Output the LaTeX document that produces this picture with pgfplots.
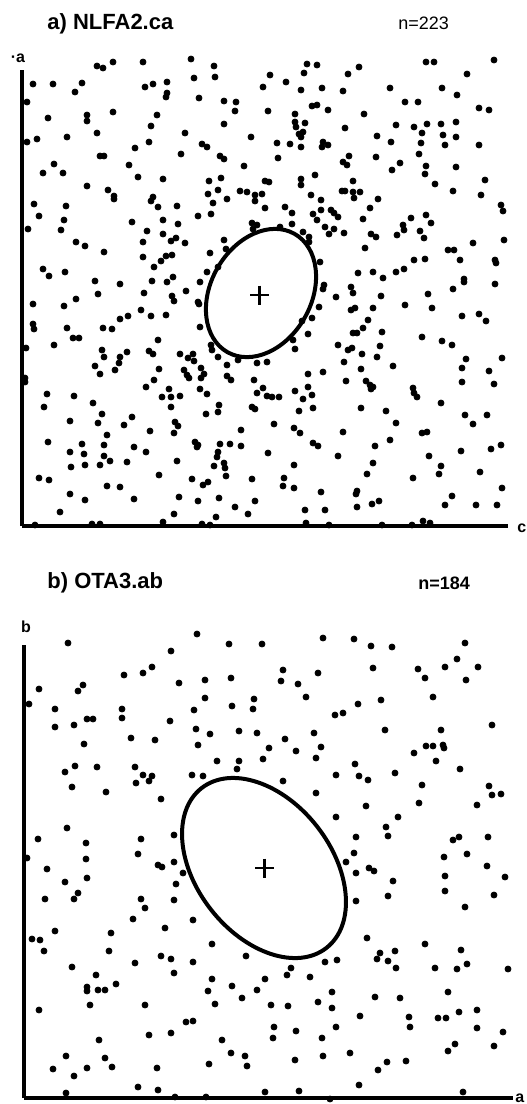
\documentclass[border=0pt]{standalone}
\usepackage{pgfplots}
\pgfplotsset{compat=1.18}
\usepackage{fontspec}
\setmainfont{Liberation Sans}
\pgfplotsset{
 dotax/.style={scale only axis, axis lines=left, axis line style={-, line width=2.2pt},
   x axis line style={-}, y axis line style={-},
   xtick=\empty, ytick=\empty, clip=false, anchor=north west},
 dots/.style={only marks, mark=*, mark size=1.5pt, black},
}
\begin{document}
\begin{tikzpicture}
\useasboundingbox (0pt,0pt) rectangle (263pt,-552pt);
% ---------------- panel a ----------------
\begin{axis}[dotax, at={(11pt,-35pt)}, width=243pt, height=228pt,
  xmin=22, xmax=508, ymin=-526, ymax=-70]
\addplot[dots] coordinates {
(97,-66)(103,-68)(113,-62)(143,-62)(191,-59)(214,-66)(33,-84)(53,-84)(82,-83)(75,-92)(145,-87)(153,-84)(167,-82)(167,-93)(166,-97)(194,-78)(215,-77)(199,-98)(224,-101)(236,-102)(235,-111)(263,-87)(268,-111)(27,-102)(48,-118)(87,-115)(87,-121)(113,-112)(157,-115)(151,-126)(224,-124)(185,-133)(97,-133)(67,-137)(37,-139)(27,-142)(149,-142)(135,-148)(202,-144)(207,-147)(251,-137)(100,-156)(104,-156)(181,-154)(220,-156)(224,-159)(129,-165)(54,-164)(43,-173)(63,-173)(244,-166)(138,-177)(163,-179)(209,-181)(221,-178)(265,-181)(87,-186)(108,-190)(114,-196)(114,-199)(218,-190)(208,-194)(240,-191)(247,-192)(255,-195)(262,-194)(255,-201)(227,-199)(34,-204)(66,-206)(153,-197)(151,-201)(158,-207)(177,-206)(213,-203)(265,-208)(39,-216)(198,-216)(211,-214)(64,-220)(132,-222)(163,-220)(178,-224)(252,-223)(257,-225)(253,-229)(28,-229)(61,-230)(147,-231)(163,-234)(171,-241)(176,-238)(185,-243)(143,-242)(76,-242)(85,-246)(104,-252)(224,-240)(226,-249)(210,-253)(143,-257)(166,-256)(172,-255)(161,-261)(154,-267)(43,-269)(65,-272)(49,-276)(207,-272)(173,-277)(218,-267)
(307,-64)(317,-65)(359,-67)(426,-62)(434,-62)(494,-60)(270,-75)(304,-73)(348,-74)(467,-74)(286,-82)(301,-90)(322,-88)(343,-91)(390,-88)(442,-88)(457,-95)(405,-102)(418,-102)(312,-106)(317,-105)(328,-110)(295,-114)(364,-114)(479,-108)(489,-110)(295,-122)(296,-127)(305,-123)(345,-128)(396,-125)(414,-127)(427,-124)(441,-124)(456,-122)(299,-134)(303,-132)(301,-137)(377,-136)(422,-133)(443,-135)(456,-137)(277,-143)(290,-144)(301,-147)(323,-142)(322,-147)(328,-145)(391,-142)(421,-143)(445,-145)(479,-145)(278,-158)(349,-156)(376,-157)(419,-154)(343,-162)(347,-165)(400,-163)(392,-170)(426,-166)(425,-174)(456,-167)(315,-175)(269,-182)(301,-179)(301,-185)(353,-181)(435,-184)(485,-180)(311,-195)(342,-191)(345,-191)(353,-192)(360,-192)(354,-198)(378,-199)(453,-191)(481,-195)(321,-200)(285,-207)(292,-213)(331,-210)(334,-213)(338,-217)(313,-214)(321,-210)(317,-220)(370,-208)(501,-205)(503,-211)(363,-219)(411,-218)(426,-215)(431,-223)(403,-225)(404,-230)(292,-224)(325,-227)(334,-229)(329,-234)(344,-233)(280,-227)(303,-232)(309,-237)(309,-242)(371,-234)(376,-237)(397,-235)(420,-231)(424,-238)(473,-243)(504,-240)(365,-248)(448,-250)(454,-250)(320,-262)(414,-260)(425,-259)(460,-260)(495,-260)(496,-263)(358,-273)(373,-272)(383,-278)(396,-272)(404,-269)(464,-279)
(95,-281)(120,-284)(152,-281)(167,-282)(200,-282)(98,-294)(144,-293)(186,-291)(172,-296)(174,-301)(198,-302)(199,-304)(33,-304)(64,-306)(76,-299)(141,-310)(166,-315)(151,-316)(120,-319)(128,-316)(33,-324)(34,-329)(67,-328)(103,-328)(112,-329)(200,-327)(73,-338)(79,-338)(54,-345)(158,-340)(26,-348)(211,-345)(212,-350)(102,-350)(104,-357)(127,-352)(149,-351)(153,-354)(120,-357)(119,-363)(180,-354)(193,-354)(188,-358)(194,-361)(218,-357)(238,-360)(257,-363)(267,-362)(95,-366)(100,-374)(115,-370)(159,-369)(184,-370)(187,-375)(189,-378)(201,-368)(204,-374)(201,-378)(227,-365)(227,-376)(231,-380)(254,-380)(25,-378)(25,-382)(154,-380)(146,-387)(169,-389)(162,-397)(171,-397)(180,-396)(200,-389)(207,-394)(257,-393)(263,-388)(267,-396)(47,-394)(74,-396)(44,-407)(93,-403)(171,-407)(219,-405)(218,-412)(206,-414)(252,-407)(255,-409)(102,-414)(132,-417)(70,-421)(98,-423)(124,-425)(175,-422)(178,-426)(241,-430)(150,-431)(174,-433)(107,-435)(48,-442)(82,-444)(104,-445)(134,-447)(195,-442)(198,-445)(197,-447)(220,-444)(230,-444)(241,-446)(268,-453)(70,-452)(84,-454)(146,-452)(104,-456)(110,-461)(218,-452)(217,-457)(71,-467)(85,-465)(100,-465)(127,-462)(177,-461)(214,-466)(224,-463)(225,-468)(39,-478)(49,-480)(159,-475)(226,-476)(192,-479)(203,-485)(208,-482)(252,-479)(107,-486)(120,-487)(70,-494)(85,-500)(134,-499)(179,-497)(198,-501)(219,-498)(255,-501)(60,-512)(174,-514)(235,-507)(248,-514)(216,-517)(35,-525)(92,-524)(100,-524)(163,-522)(202,-524)(210,-525)
(324,-285)(323,-289)(351,-287)(353,-293)(336,-297)(381,-296)(405,-305)(428,-294)(432,-308)(453,-289)(464,-282)(495,-284)(319,-307)(312,-318)(302,-321)(351,-310)(355,-308)(373,-308)(368,-320)(363,-328)(353,-333)(357,-333)(382,-332)(308,-334)(293,-340)(295,-349)(338,-345)(348,-350)(352,-348)(380,-346)(362,-354)(377,-357)(422,-337)(442,-341)(452,-345)(462,-316)(479,-314)(486,-321)(466,-359)(502,-358)(344,-362)(393,-366)(361,-369)(462,-368)(489,-371)(308,-374)(323,-372)(346,-381)(366,-381)(370,-385)(373,-387)(371,-389)(462,-382)(494,-384)(308,-387)(295,-391)(312,-395)(303,-399)(272,-397)(279,-397)(413,-388)(414,-393)(417,-397)(441,-403)(361,-408)(386,-411)(313,-408)(299,-411)(465,-415)(487,-415)(473,-424)(274,-424)(396,-423)(294,-428)(300,-433)(343,-432)(422,-433)(427,-432)(390,-440)(313,-443)(318,-446)(375,-446)(338,-456)(429,-456)(461,-451)(491,-449)(501,-445)(294,-465)(373,-463)(441,-466)(439,-474)(367,-474)(480,-472)(284,-478)(283,-486)(294,-488)(413,-478)(321,-492)(357,-491)(356,-494)(502,-488)(452,-496)(372,-504)(379,-501)(357,-507)(445,-505)(476,-505)(497,-505)(305,-510)(325,-510)(306,-523)(329,-525)(382,-525)(412,-525)(423,-521)(430,-523)
};
\draw[line width=2pt, rotate around={60.4:(axis cs:261,-293)}] (axis cs:261,-293) ellipse [x radius=34pt, y radius=25.1pt];
\draw[line width=1.3pt] (axis cs:250,-295) -- (axis cs:269,-295) (axis cs:259.5,-285.5) -- (axis cs:259.5,-304.5);
\end{axis}
% ---------------- panel b ----------------
\begin{axis}[dotax, at={(12pt,-322.5pt)}, width=244.5pt, height=226.5pt,
  xmin=24, xmax=513, ymin=-1098, ymax=-645]
\addplot[dots] coordinates {
(68,-643)(197,-634)(229,-644)(262,-644)(171,-651)(152,-667)(143,-673)(124,-675)(39,-689)(78,-691)(83,-685)(179,-683)(205,-680)(231,-678)(29,-704)(55,-709)(122,-709)(194,-710)(205,-698)(232,-706)(254,-699)(253,-709)(55,-727)(74,-725)(87,-719)(93,-719)(122,-718)(170,-721)(196,-729)(210,-734)(239,-731)(257,-733)(84,-744)(131,-738)(155,-740)(198,-745)(269,-748)(217,-761)(239,-761)(237,-769)(263,-759)(65,-772)(75,-766)(97,-767)(135,-767)(143,-775)(152,-776)(149,-781)(136,-783)(192,-775)(203,-776)(72,-787)(106,-792)(161,-799)(67,-828)(38,-839)(86,-843)(141,-839)(174,-835)
(323,-638)(354,-639)(371,-646)(392,-647)(465,-643)(457,-659)(445,-667)(478,-667)(466,-680)(418,-669)(425,-678)(283,-670)(281,-681)(318,-673)(298,-684)(373,-668)(306,-697)(433,-697)(358,-704)(381,-700)(335,-715)(343,-713)(385,-730)(441,-730)(492,-725)(314,-733)(285,-739)(296,-751)(321,-747)(316,-758)(414,-753)(426,-746)(433,-746)(443,-745)(444,-748)(436,-761)(355,-764)(336,-775)(359,-776)(368,-780)(395,-773)(460,-769)(283,-781)(422,-785)(489,-786)(492,-795)(501,-794)(316,-793)(419,-803)(477,-805)(366,-806)(336,-817)(398,-817)(386,-827)(388,-836)(356,-837)(453,-840)(459,-837)(488,-837)
(27,-858)(86,-859)(138,-854)(158,-865)(162,-867)(174,-862)(183,-873)(47,-869)(65,-882)(87,-878)(78,-893)(74,-899)(45,-899)(141,-899)(145,-908)(176,-884)(174,-900)(133,-919)(193,-920)(165,-928)(55,-931)(111,-933)(32,-939)(40,-940)(44,-951)(109,-951)(212,-944)(161,-956)(171,-959)(193,-962)(135,-963)(246,-956)(72,-967)(174,-973)(96,-975)(87,-987)(87,-991)(98,-990)(105,-990)(116,-984)(212,-979)(208,-991)(232,-986)(257,-990)(265,-979)(242,-998)(215,-1004)(90,-1005)(145,-1005)(39,-1010)(186,-1022)(193,-1021)(149,-1035)(171,-1033)(99,-1040)(222,-1040)(231,-1053)(245,-1056)(247,-1066)(209,-1064)(66,-1056)(105,-1058)(112,-1067)(53,-1069)(87,-1068)(157,-1068)(74,-1076)(138,-1087)(158,-1090)(66,-1093)(265,-1092)(175,-1097)(206,-1097)
(354,-853)(346,-862)(356,-873)(369,-868)(374,-871)(393,-881)(388,-896)(356,-901)(444,-857)(467,-854)(487,-866)(445,-876)(445,-891)(505,-877)(494,-895)(465,-907)(367,-938)(425,-944)(461,-950)(380,-953)(377,-959)(395,-951)(388,-961)(396,-968)(435,-968)(457,-969)(467,-964)(508,-969)(325,-962)(337,-960)(291,-968)(287,-975)(310,-977)(332,-992)(375,-997)(400,-998)(448,-992)(271,-1005)(288,-1006)(318,-1002)(332,-1008)(360,-1016)(409,-1017)(410,-1027)(438,-1018)(446,-1018)(459,-1012)(477,-1010)(274,-1027)(273,-1038)(296,-1031)(336,-1027)(322,-1038)(477,-1028)(503,-1032)(455,-1044)(448,-1051)(494,-1046)(295,-1060)(323,-1056)(350,-1053)(387,-1062)(378,-1070)(406,-1061)(359,-1085)(299,-1091)(463,-1092)(330,-1099)
};
\draw[line width=2pt, rotate around={-52:(axis cs:264,-868)}] (axis cs:264,-868) ellipse [x radius=50.7pt, y radius=33.7pt];
\draw[line width=1.3pt] (axis cs:255,-868) -- (axis cs:274,-868) (axis cs:264.5,-858.5) -- (axis cs:264.5,-877.5);
\end{axis}
% ---------------- texts ----------------
\node[anchor=west, inner sep=0pt, font=\fontsize{11}{13}\selectfont\bfseries] at (23.5pt,-11.8pt) {a) NLFA2.ca};
\node[anchor=west, inner sep=0pt, font=\fontsize{9}{11}\selectfont] at (199pt,-11.8pt) {n=223};
\node[inner sep=0pt, font=\fontsize{8}{9}\selectfont\bfseries] at (9pt,-29pt) {·a};
\node[anchor=west, inner sep=0pt, font=\fontsize{8}{9}\selectfont\bfseries] at (258.5pt,-264pt) {c};
\node[anchor=west, inner sep=0pt, font=\fontsize{11}{13}\selectfont\bfseries] at (23.5pt,-291.5pt) {b) OTA3.ab};
\node[anchor=west, inner sep=0pt, font=\fontsize{9}{11}\selectfont\bfseries] at (209pt,-291.5pt) {n=184};
\node[inner sep=0pt, font=\fontsize{8}{9}\selectfont\bfseries] at (13pt,-313.5pt) {b};
\node[anchor=west, inner sep=0pt, font=\fontsize{8}{9}\selectfont\bfseries] at (257.5pt,-549pt) {a};
\end{tikzpicture}
\end{document}
